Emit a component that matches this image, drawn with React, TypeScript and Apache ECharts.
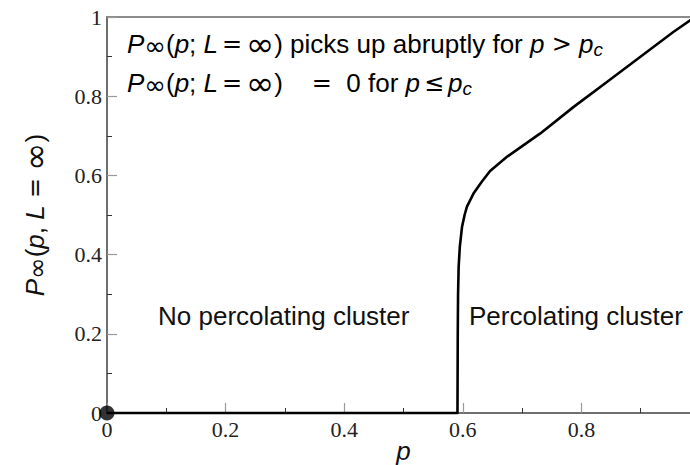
import React, { useEffect, useRef } from 'react';
import * as echarts from 'echarts';

// Percolation probability curve P∞(p, L=∞)
const curveP = [0, 0.591, 0.5915, 0.592, 0.593, 0.595, 0.5987, 0.603, 0.607, 0.618, 0.632, 0.646, 0.6745, 0.7307, 0.787, 0.843, 0.899, 0.955, 0.984, 1.0];
const curveProb = [0, 0, 0.2, 0.3, 0.369, 0.42, 0.47, 0.5, 0.521, 0.554, 0.584, 0.611, 0.647, 0.706, 0.773, 0.836, 0.899, 0.962, 0.992, 1.0];

const dotP = [0];
const dotProb = [0];

const xTickLabels = ['0', '0.2', '0.4', '0.6', '0.8', ''];
const yTickLabels = ['0', '0.2', '0.4', '0.6', '0.8', '1'];

const mathHead = '{i|P}{sub|∞}{n|(}{i|p}{n|;}{sp| }{i|L}{t| }{sym|=}{t| }{inf|∞}{n|)}';
const annotationLine1 = mathHead + '{n| picks up abruptly for }{i|p}{sp| }{sym|>}{sp| }{i|p}{subi|c}';
const annotationLine2 = mathHead + '{g|    }{sym|=}{g|  }{n|0 for }{i|p}{t| }{sym|≤}{t| }{i|p}{subi|c}';
const regionLeft = 'No percolating cluster';
const regionRight = 'Percolating cluster';
const yName = '{i|P}{sub|∞}{n|(}{i|p}{n|,}{sp| }{i|L}{g| }{sym|=}{g| }{inf|∞}{n|)}';
const xName = 'p';

const SANS = '"Liberation Sans", Arial, sans-serif';
const MATH = '"DejaVu Sans", sans-serif';
const SERIF = '"Liberation Serif", "Times New Roman", serif';

const rich = {
  n: { fontFamily: SANS, fontSize: 26, color: '#111', lineHeight: 30 },
  g: { fontFamily: SANS, fontSize: 26, color: '#111', lineHeight: 30 },
  sp: { fontFamily: SANS, fontSize: 26, color: '#111', lineHeight: 30 },
  t: { fontFamily: SANS, fontSize: 14, color: '#111', lineHeight: 30 },
  i: { fontFamily: SANS, fontSize: 26, fontStyle: 'italic', color: '#111', lineHeight: 30 },
  sym: { fontFamily: MATH, fontSize: 24, color: '#111', lineHeight: 30 },
  inf: { fontFamily: MATH, fontSize: 34, color: '#111', lineHeight: 30 },
  sub: { fontFamily: MATH, fontSize: 26, color: '#111', lineHeight: 10, verticalAlign: 'bottom' },
  subi: { fontFamily: SANS, fontSize: 19, fontStyle: 'italic', color: '#111', lineHeight: 12, verticalAlign: 'bottom' },
};

export default function App() {
  const ref = useRef<HTMLDivElement>(null);
  useEffect(() => {
    if (!ref.current) return;
    const chart = echarts.init(ref.current, null, { renderer: 'svg' });
    const curve = curveP.map((p, k) => [p, curveProb[k]]);
    const dot = dotP.map((p, k) => [p, dotProb[k]]);
    chart.setOption({
      animation: false,
      backgroundColor: '#fff',
      grid: {
        left: 107, top: 17, width: 593, height: 396,
        outerBoundsMode: 'none', containLabel: false,
        show: true, borderColor: '#666', borderWidth: 1.5, backgroundColor: 'transparent',
      },
      xAxis: {
        type: 'value', min: 0, max: 1, interval: 0.2,
        name: xName, nameLocation: 'middle', nameGap: 25, nameMoveOverlap: false,
        nameTextStyle: { fontFamily: SANS, fontSize: 26, fontStyle: 'italic', color: '#111' },
        axisLine: { show: true, lineStyle: { color: '#666', width: 1.5 } },
        axisTick: { show: true, inside: true, length: 10, lineStyle: { color: '#999', width: 1.2 } },
        minorTick: { show: true, splitNumber: 2, length: 5, lineStyle: { color: '#333', width: 1 } },
        splitLine: { show: false },
        axisLabel: {
          margin: 5, fontFamily: SERIF, fontSize: 22, color: '#222',
          formatter: (v: number) => xTickLabels[Math.round(v / 0.2)] ?? '',
        },
      },
      yAxis: {
        type: 'value', min: 0, max: 1, interval: 0.2,
        name: yName, nameLocation: 'middle', nameGap: 57, nameRotate: 90, nameMoveOverlap: false,
        nameTextStyle: { rich },
        axisLine: { show: true, lineStyle: { color: '#666', width: 1.5 } },
        axisTick: { show: true, inside: true, length: 10, lineStyle: { color: '#999', width: 1.2 } },
        minorTick: { show: true, splitNumber: 2, length: 5, lineStyle: { color: '#333', width: 1 } },
        splitLine: { show: false },
        axisLabel: {
          margin: 5, fontFamily: SERIF, fontSize: 22, color: '#222',
          formatter: (v: number) => yTickLabels[Math.round(v / 0.2)] ?? '',
        },
      },
      series: [
        {
          type: 'line', data: curve, showSymbol: false, symbol: 'none', clip: false,
          lineStyle: { color: '#000', width: 2.6, join: 'round' }, z: 5,
        },
        {
          type: 'scatter', data: dot, symbolSize: 15, itemStyle: { color: '#000' }, z: 6, clip: false,
        },
      ],
      graphic: [
        { type: 'text', left: 127, top: 27, style: { text: annotationLine1, rich } },
        { type: 'text', left: 127, top: 66, style: { text: annotationLine2, rich } },
        { type: 'text', left: 158, top: 303, style: { text: regionLeft, fontFamily: SANS, fontSize: 26, fill: '#111' } },
        { type: 'text', left: 469, top: 303, style: { text: regionRight, fontFamily: SANS, fontSize: 26, fill: '#111' } },
      ],
    });
    return () => chart.dispose();
  }, []);
  return <div ref={ref} style={{ position: 'fixed', left: 0, top: 0, width: 690, height: 465 }} />;
}
